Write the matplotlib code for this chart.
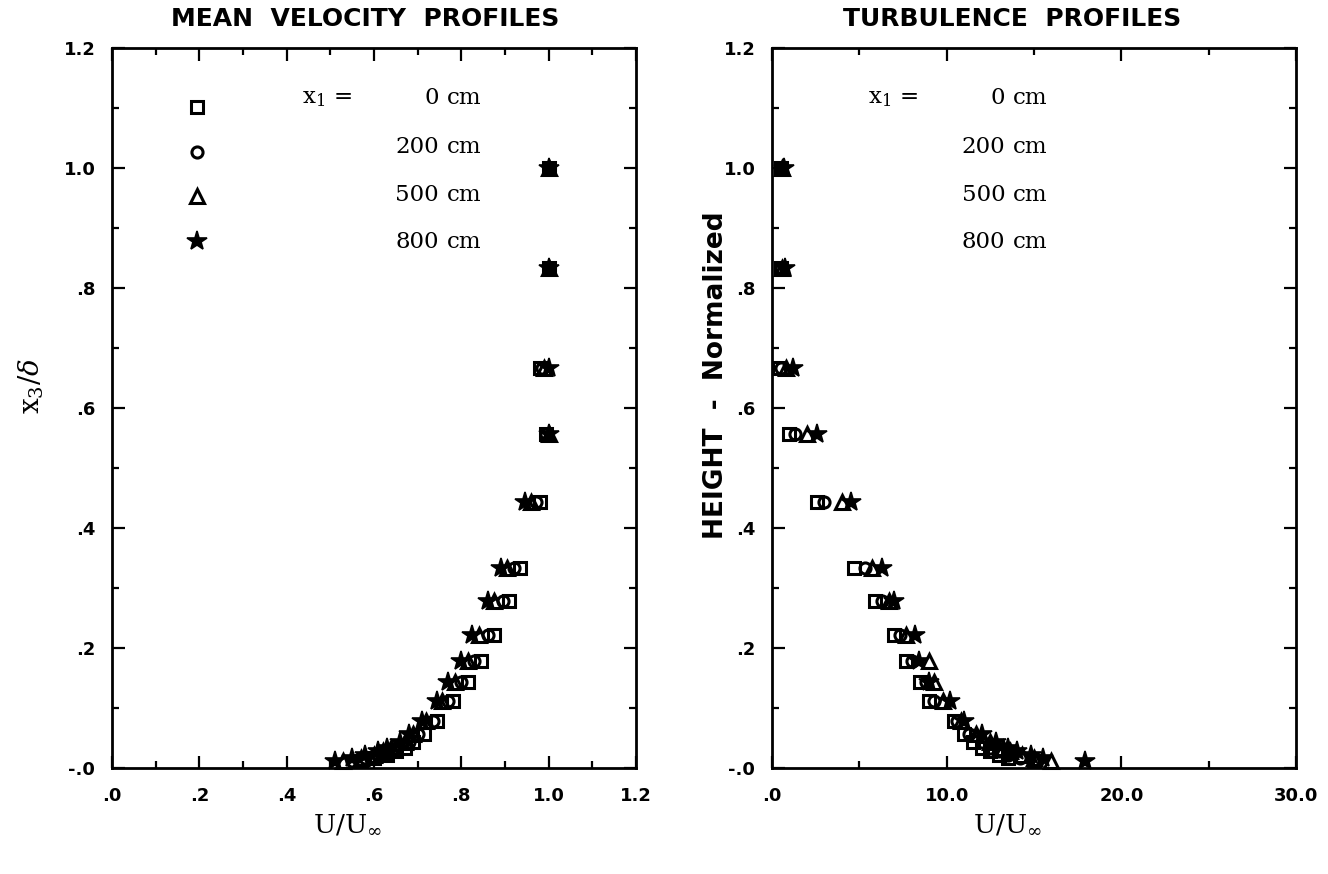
import numpy as np
import matplotlib.pyplot as plt
from matplotlib.lines import Line2D
from matplotlib.ticker import MultipleLocator, FixedLocator, FixedFormatter

# Heights x3/delta (shared by both panels)
heights = [1.0, 0.833, 0.667, 0.556, 0.444, 0.333, 0.278, 0.222, 0.178, 0.144,
           0.111, 0.078, 0.056, 0.044, 0.033, 0.028, 0.022, 0.017, 0.011]

# Mean velocity U/Uinf at x1 = 0, 200, 500, 800 cm
u_0 = [1.0, 1.0, 0.98, 0.995, 0.98, 0.935, 0.91, 0.875, 0.845, 0.815,
       0.78, 0.745, 0.715, 0.69, 0.67, 0.65, 0.63, 0.60, 0.57]
u_200 = [1.0, 1.0, 0.985, 0.995, 0.97, 0.92, 0.895, 0.86, 0.83, 0.80,
         0.77, 0.735, 0.70, 0.68, 0.65, 0.63, 0.61, 0.58, 0.55]
u_500 = [1.0, 1.0, 0.99, 1.0, 0.96, 0.905, 0.875, 0.84, 0.815, 0.785,
         0.755, 0.72, 0.69, 0.67, 0.64, 0.62, 0.60, 0.57, 0.53]
u_800 = [1.0, 1.0, 1.0, 1.0, 0.945, 0.89, 0.86, 0.825, 0.80, 0.77,
         0.745, 0.71, 0.68, 0.66, 0.63, 0.61, 0.58, 0.55, 0.51]

# Turbulence intensity
t_0 = [0.5, 0.5, 0.4, 1.0, 2.6, 4.7, 5.9, 7.0, 7.7, 8.5,
       9.0, 10.4, 11.0, 11.5, 12.0, 12.5, 13.0, 13.5, 15.0]
t_200 = [0.5, 0.5, 0.5, 1.3, 3.0, 5.3, 6.3, 7.3, 8.0, 8.8,
         9.3, 10.6, 11.3, 12.0, 12.5, 13.0, 13.5, 14.2, 15.2]
t_500 = [0.6, 0.6, 0.8, 2.0, 4.0, 5.7, 6.7, 7.7, 9.0, 9.3,
         9.8, 10.8, 11.7, 12.5, 13.2, 13.6, 14.3, 15.0, 16.0]
t_800 = [0.7, 0.75, 1.2, 2.6, 4.5, 6.3, 7.0, 8.2, 8.4, 9.0,
         10.2, 11.0, 12.0, 12.8, 13.5, 14.0, 14.8, 15.5, 17.9]

stations = ['0', '200', '500', '800']
markers = ['s', 'o', '^', '*']

y_ticks = [0.0, 0.2, 0.4, 0.6, 0.8, 1.0, 1.2]
y_ticklabels = ['-.0', '.2', '.4', '.6', '.8', '1.0', '1.2']
u_ticks = [0.0, 0.2, 0.4, 0.6, 0.8, 1.0, 1.2]
u_ticklabels = ['.0', '.2', '.4', '.6', '.8', '1.0', '1.2']
t_ticks = [0, 10, 20, 30]
t_ticklabels = ['.0', '10.0', '20.0', '30.0']

plt.rcParams['mathtext.fontset'] = 'dejavuserif'

fig = plt.figure(figsize=(13.28, 8.74), dpi=100)
W, H = 1328.0, 874.0
ax1 = fig.add_axes([112 / W, 1 - 768 / H, 524 / W, 720 / H])
ax2 = fig.add_axes([772 / W, 1 - 768 / H, 524 / W, 720 / H])

tick_font = dict(family='DejaVu Sans', weight='bold', size=13)
serif = 'DejaVu Serif'


def style_marker(m):
    if m == '*':
        return dict(marker='*', ms=15, mfc='black', mec='black', mew=1.2)
    if m == 's':
        return dict(marker='s', ms=8.5, mfc='none', mec='black', mew=2.2)
    if m == 'o':
        return dict(marker='o', ms=8, mfc='none', mec='black', mew=2.2)
    return dict(marker='^', ms=9.5, mfc='none', mec='black', mew=2.2)


def setup(ax, xlim, xticks, xlabels, xminor):
    ax.set_xlim(*xlim)
    ax.set_ylim(0, 1.2)
    ax.xaxis.set_major_locator(FixedLocator(xticks))
    ax.xaxis.set_major_formatter(FixedFormatter(xlabels))
    ax.xaxis.set_minor_locator(MultipleLocator(xminor))
    ax.yaxis.set_major_locator(FixedLocator(y_ticks))
    ax.yaxis.set_major_formatter(FixedFormatter(y_ticklabels))
    ax.yaxis.set_minor_locator(MultipleLocator(0.1))
    ax.tick_params(which='both', direction='in', top=True, right=True,
                   width=1.6, color='black')
    ax.tick_params(which='major', length=9)
    ax.tick_params(which='minor', length=5)
    ax.tick_params(axis='x', pad=14)
    ax.tick_params(axis='y', pad=12)
    for lab in ax.get_xticklabels() + ax.get_yticklabels():
        lab.set_fontproperties(tick_font)
    for s in ax.spines.values():
        s.set_linewidth(2.0)


# Panel 1: mean velocity
for vals, m in zip([u_0, u_200, u_500, u_800], markers):
    ax1.plot(vals, heights, ls='none', clip_on=False, **style_marker(m))
setup(ax1, (0, 1.2), u_ticks, u_ticklabels, 0.1)

# Panel 2: turbulence
for vals, m in zip([t_0, t_200, t_500, t_800], markers):
    ax2.plot(vals, heights, ls='none', clip_on=False, **style_marker(m))
setup(ax2, (0, 30), t_ticks, t_ticklabels, 5)

# marker key in panel 1
handles = [Line2D([], [], ls='none', **style_marker(m)) for m in markers]
ax1.legend(handles, [''] * 4, loc='upper left', bbox_to_anchor=(0.125, 0.9425),
           frameon=False, handlelength=1.0, handletextpad=0.0,
           labelspacing=1.31, fontsize=14, borderpad=0)

# station text in both panels
row_y = [0.9306, 0.8625, 0.7958, 0.7306]
for ax, xs in [(ax1, 0.362), (ax2, 0.183)]:
    ax.text(xs, row_y[0], r'x$_1$ =', transform=ax.transAxes, family=serif,
            fontsize=16.5, va='center', ha='left')
    for yy, st in zip(row_y, stations):
        ax.text(xs + 0.262, yy, st, transform=ax.transAxes, family=serif,
                fontsize=16.5, va='center', ha='right')
        ax.text(xs + 0.277, yy, 'cm', transform=ax.transAxes, family=serif,
                fontsize=16.5, va='center', ha='left')

# titles
title_font = dict(family='DejaVu Sans', weight='bold', fontsize=18)
fig.text(365 / W, 1 - 19 / H, 'MEAN  VELOCITY  PROFILES', ha='center', va='center', **title_font)
fig.text(1012 / W, 1 - 19 / H, 'TURBULENCE  PROFILES', ha='center', va='center', **title_font)

# axis labels
ax1.set_xlabel(r'U/U$_\infty$', family=serif, fontsize=19)
ax1.xaxis.set_label_coords(0.45, -0.06)
ax2.set_xlabel(r'U/U$_\infty$', family=serif, fontsize=19)
ax2.xaxis.set_label_coords(0.45, -0.06)
ax1.set_ylabel(r'x$_3$/$\delta$', family=serif, fontsize=20)
ax1.yaxis.set_label_coords(-0.125, 0.53)
ax2.set_ylabel('HEIGHT  -  Normalized', family='DejaVu Sans', weight='bold', fontsize=19)
ax2.yaxis.set_label_coords(-0.083, 0.546)

fig.savefig('out.png', dpi=100)
